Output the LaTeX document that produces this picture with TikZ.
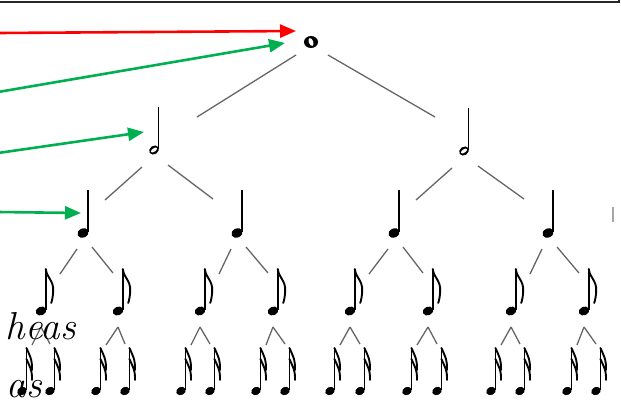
\documentclass[tikz,border=0pt]{standalone}
\usepackage{fontspec}
\usepackage{tikz}
\usetikzlibrary{arrows.meta,calc}
\definecolor{arrowgreen}{HTML}{00B050}
\tikzstyle{branch} = [line width=1.3pt, black!60]
\tikzstyle{notestem} = [line width=1.7pt]
\tikzstyle{noteflag} = [line width=1.9pt, line cap=round]
\tikzstyle{pointer} = [line width=2.6pt, -{Triangle[length=16pt,width=13pt]}]
\tikzstyle{wordtext} = [font=\fontsize{39}{44}\selectfont\itshape, inner sep=0pt]
\tikzset{
  whole/.pic={\fill (0,0) ellipse [x radius=7, y radius=6];
    \fill[white, rotate=20] (0,0) ellipse [x radius=2.2, y radius=4.1];},
  half/.pic={\fill[rotate=35] (0,0) ellipse [x radius=5.2, y radius=4.2];
    \fill[white, rotate=35] (0,0) ellipse [x radius=3.5, y radius=1.7];
    \draw[notestem] (4.6,-1) -- (4.6,-43);},
  quarter/.pic={\fill[rotate=25] (0,0) ellipse [x radius=5.8, y radius=4.5];
    \draw[notestem] (5.1,-1) -- (5.1,-43);},
  eighth/.pic={\fill[rotate=25] (0,0) ellipse [x radius=5.4, y radius=4.3];
    \draw[notestem] (4.8,-1) -- (4.8,-42);
    \draw[noteflag] (4.8,-42) .. controls (5.7,-33) and (12.7,-31) .. (12.2,-20) .. controls (12,-15) and (11.2,-11) .. (10.2,-8);},
  sixteenth/.pic={\fill[rotate=25] (0,0) ellipse [x radius=5, y radius=4];
    \draw[notestem] (4.4,-1) -- (4.4,-43);
    \draw[noteflag] (4.4,-43) .. controls (7,-37) and (10.5,-32) .. (10,-21);
    \draw[noteflag] (4.4,-32) .. controls (7,-26) and (10.5,-21) .. (10,-11);},
}

\begin{document}
\begin{tikzpicture}[x=1pt, y=-1pt]
	\useasboundingbox (0,0) rectangle (621,405);
	\clip (0,0) rectangle (621,405);
	% edge of the box above
	\draw[line width=1.8pt, black!85] (-5,2) -- (619,2) -- (619,-5);
	\draw[black!35, line width=1.5pt] (613,207) -- (613,222);
	% notes
	\coordinate (w) at (311,42);
	\coordinate (h1) at (154,150);
	\coordinate (h2) at (464,151);
	\pic at (w) {whole};
	\pic at (h1) {half};
	\pic at (h2) {half};
	\foreach \n/\x in {1/83,2/237,3/394,4/548}{
		\coordinate (q\n) at (\x,233);
		\pic at (q\n) {quarter};
	}
	\foreach \n/\x in {1/41,2/118,3/200,4/273,5/350,6/428,7/511,8/584}{
		\coordinate (e\n) at (\x,311);
		\pic at (e\n) {eighth};
	}
	\foreach \n/\x in {1/22,2/50,3/96,4/125,5/181,6/210,7/256,8/285,9/330,10/360,11/407,12/437,13/491,14/520,15/567,16/596}{
		\coordinate (s\n) at (\x,391);
		\pic at (s\n) {sixteenth};
	}
	% tree lines
	\draw[branch] ($(w)+(-15,13)$) -- ($(h1)+(43,-33)$);
	\draw[branch] ($(w)+(17,13)$) -- ($(h2)+(-29,-34)$);
	\foreach \p/\a/\b in {h1/q1/q2, h2/q3/q4}{
		\draw[branch] ($(\p)+(-12,17)$) -- ($(\a)+(22,-33)$);
		\draw[branch] ($(\p)+(14,15)$) -- ($(\b)+(-24,-34)$);
	}
	\foreach \p/\a/\b in {q1/e1/e2, q2/e3/e4, q3/e5/e6, q4/e7/e8}{
		\draw[branch] ($(\p)+(-6,16)$) -- ($(\a)+(19,-37)$);
		\draw[branch] ($(\p)+(9,14)$) -- ($(\b)+(-5,-38)$);
	}
	\foreach \p/\a/\b in {e1/s1/s2, e2/s3/s4, e3/s5/s6, e4/s7/s8, e5/s9/s10, e6/s11/s12, e7/s13/s14, e8/s15/s16}{
		\draw[branch] ($(\p)+(0,16)$) -- ($(\a)+(10,-46)$);
		\draw[branch] ($(\p)+(0,16)$) -- ($(\b)+(0,-47)$);
	}
	% arrows
	\coordinate (r0) at (-2,33);
	\coordinate (g1) at (-2,92);
	\coordinate (g2) at (-2,153);
	\coordinate (g3) at (-2,212);
	\draw[pointer, red] (r0) -- ($(w)+(-15,-11)$);
	\draw[pointer, arrowgreen] (g1) -- ($(w)+(-26,1)$);
	\draw[pointer, arrowgreen] (g2) -- ($(h1)+(-10,-18)$);
	\draw[pointer, arrowgreen] (g3) -- ($(q1)+(-2,-20)$);
	% cut words
	\node[wordtext, anchor=base east] (t1) at (76,339) {heas};
	\node[wordtext, anchor=base east] (t2) at (42,397) {as};
\end{tikzpicture}
\end{document}
